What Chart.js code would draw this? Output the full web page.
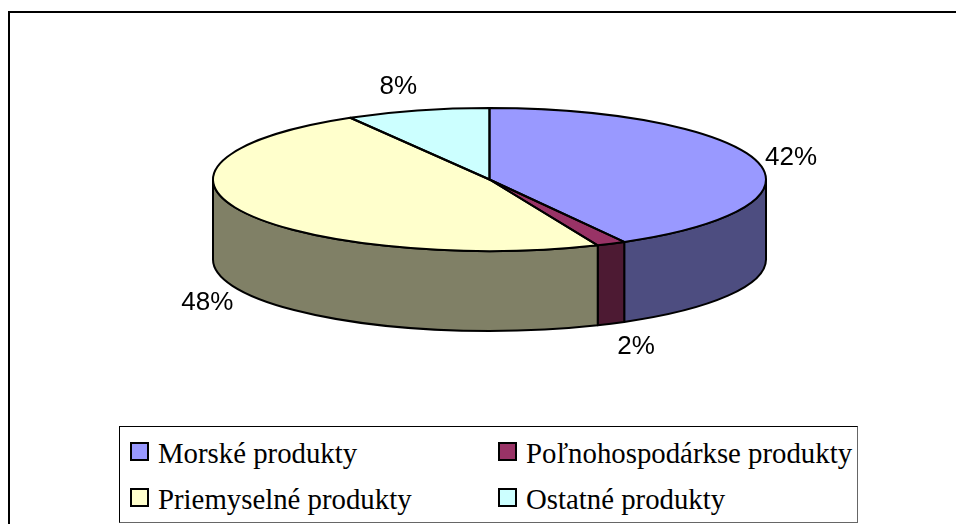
<!DOCTYPE html>
<html>
<head>
<meta charset="utf-8">
<title>Produkty</title>
<script src="https://cdn.jsdelivr.net/npm/chart.js@4"></script>
<style>
  html, body { margin: 0; padding: 0; background: #fff; overflow: hidden; }
  #wrap { position: relative; width: 956px; height: 524px; }
  #graf { position: absolute; left: 0; top: 0; }
  #ram { position: absolute; left: 8px; top: 11px; width: 948px; height: 513px;
         border-left: 2px solid #000; border-top: 2px solid #000; box-sizing: border-box; }
  #legenda { position: absolute; left: 119px; top: 426px; width: 739px; height: 97px; box-sizing: border-box;
             border: 1px solid #000; border-right-color: #666; border-bottom-color: #666; background: #fff; }
  .pol { position: absolute; font: 28.8px "Liberation Serif", serif; color: #000; white-space: nowrap; line-height: 30px; }
  .box { position: absolute; width: 19px; height: 19px; box-sizing: border-box; border: 2px solid #000; }
</style>
</head>
<body>
<div id="wrap">
  <div id="ram"></div>
  <canvas id="graf" width="956" height="524"></canvas>
  <div id="legenda"></div>
</div>
<script>
var kategorie = ["Morské produkty", "Poľnohospodárkse produkty", "Priemyselné produkty", "Ostatné produkty"];
var hodnoty = [41.9, 1.7, 48.0, 8.4];
var farby = ["#9999FF", "#993366", "#FFFFCC", "#CCFFFF"];
var farbySteny = ["#4D4D80", "#4D1A33", "#808066", "#668080"];

var splosenie = 71.5 / 276.5;
var hlbka = 80;

// posun popisku od okraja vysece
var posunPopisku = [[34, -4], [25, 23], [-35, 11], [-19, -24]];

function stenaVysece(ctx, arc, i) {
  var rx = arc.outerRadius;
  var ry = rx * splosenie;
  var od = Math.max(arc.startAngle, 0);
  var po = Math.min(arc.endAngle, Math.PI);
  if (po <= od) return;
  ctx.beginPath();
  ctx.ellipse(arc.x, arc.y, rx, ry, 0, od, po);
  ctx.ellipse(arc.x, arc.y + hlbka, rx, ry, 0, po, od, true);
  ctx.closePath();
  ctx.fillStyle = farbySteny[i];
  ctx.fill();
  ctx.stroke();
}

var kolac3d = {
  id: "kolac3d",
  beforeDatasetDraw: function(chart) {
    var ctx = chart.ctx;
    var obluky = chart.getDatasetMeta(0).data;
    ctx.save();
    ctx.lineWidth = 2;
    ctx.strokeStyle = "#000";
    ctx.lineJoin = "round";
    obluky.forEach(function(arc, i) { stenaVysece(ctx, arc, i); });
    ctx.restore();
    // samotne vysece kresli Chart.js, len ich splostime
    ctx.save();
    ctx.translate(obluky[0].x, obluky[0].y);
    ctx.scale(1, splosenie);
    ctx.translate(-obluky[0].x, -obluky[0].y);
  },
  afterDatasetDraw: function(chart) {
    var ctx = chart.ctx;
    ctx.restore();
    var obluky = chart.getDatasetMeta(0).data;
    ctx.save();
    ctx.lineWidth = 2;
    ctx.strokeStyle = "#000";
    ctx.lineJoin = "round";
    obluky.forEach(function(arc) {
      var rx = arc.outerRadius;
      ctx.beginPath();
      ctx.moveTo(arc.x, arc.y);
      ctx.ellipse(arc.x, arc.y, rx, rx * splosenie, 0, arc.startAngle, arc.endAngle);
      ctx.closePath();
      ctx.stroke();
    });
    ctx.fillStyle = "#000";
    ctx.font = '26px "Liberation Sans", Arial, sans-serif';
    ctx.textAlign = "center";
    ctx.textBaseline = "middle";
    obluky.forEach(function(arc, i) {
      var stred = (arc.startAngle + arc.endAngle) / 2;
      var rx = arc.outerRadius;
      var x = arc.x + rx * Math.cos(stred) + posunPopisku[i][0];
      var y = arc.y + rx * splosenie * Math.sin(stred) + posunPopisku[i][1];
      if (Math.sin(stred) > 0.3) y += hlbka;
      ctx.fillText(Math.round(hodnoty[i]) + "%", x, y);
    });
    ctx.restore();
  }
};

new Chart(document.getElementById("graf"), {
  type: "pie",
  data: {
    labels: kategorie,
    datasets: [{
      data: hodnoty,
      backgroundColor: farby,
      borderWidth: 0,
      clip: false
    }]
  },
  options: {
    responsive: false,
    animation: false,
    radius: 276.5,
    events: [],
    layout: { padding: { left: 23, right: 0, top: 0, bottom: 165 } },
    plugins: { legend: { display: false }, tooltip: { enabled: false } }
  },
  plugins: [kolac3d]
});

// legenda v dvoch stlpcoch
var legenda = document.getElementById("legenda");
var stlpce = [10, 378];
var riadky = [15, 61];
kategorie.forEach(function(nazov, i) {
  var s = i % 2, r = i < 2 ? 0 : 1;
  var box = document.createElement("div");
  box.className = "box";
  box.style.left = stlpce[s] + "px";
  box.style.top = riadky[r] + "px";
  box.style.background = farby[i];
  legenda.appendChild(box);
  var text = document.createElement("div");
  text.className = "pol";
  text.style.left = (stlpce[s] + 28) + "px";
  text.style.top = (riadky[r] - 4) + "px";
  text.textContent = nazov;
  legenda.appendChild(text);
});
</script>
</body>
</html>
